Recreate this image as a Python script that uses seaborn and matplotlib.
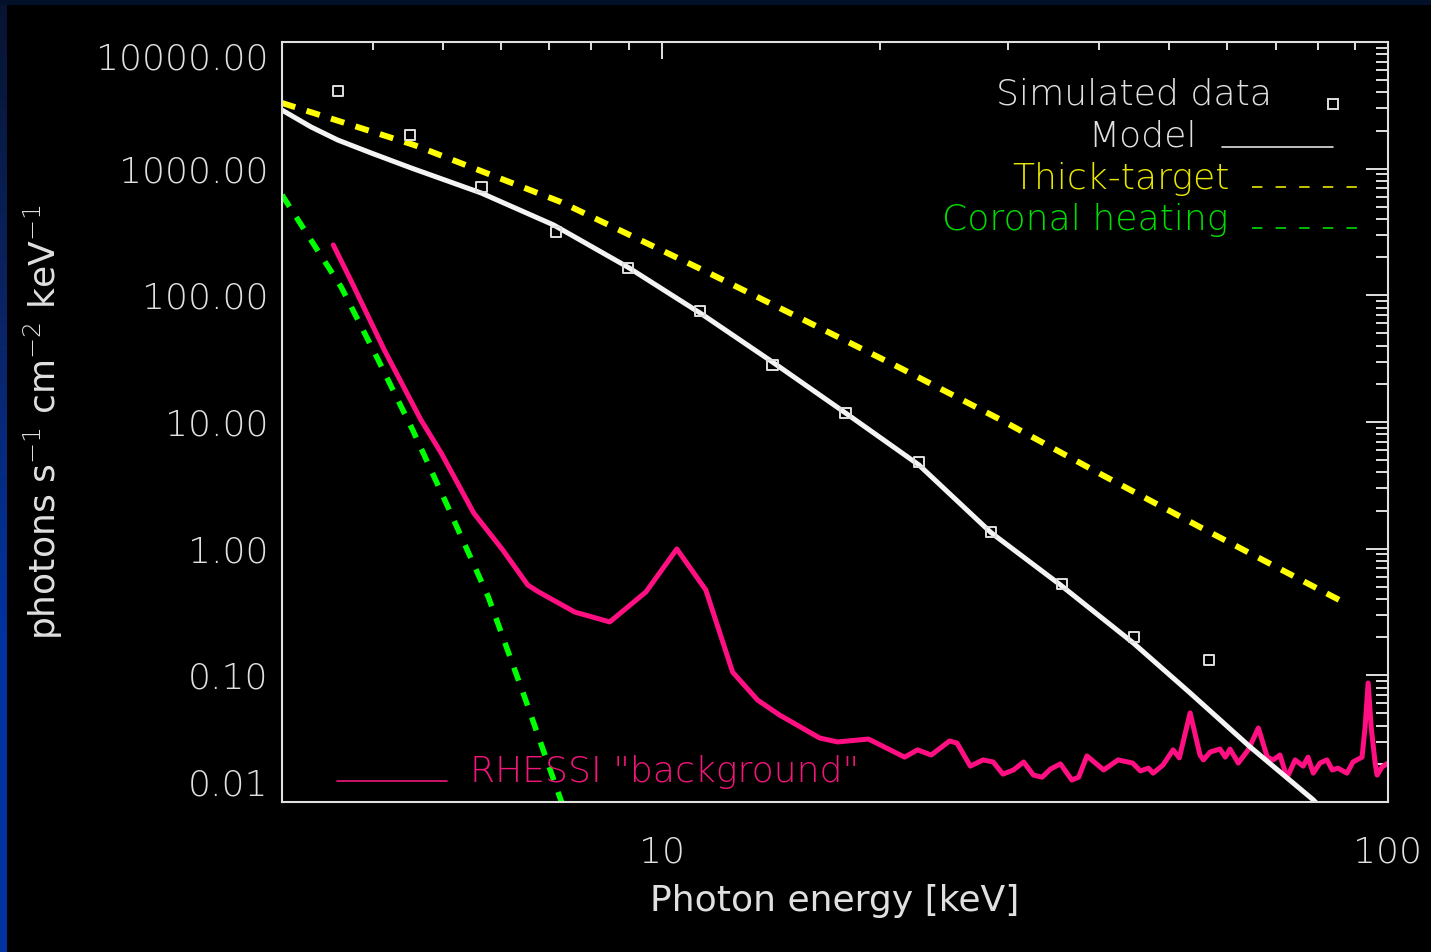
import numpy as np
import matplotlib
matplotlib.use("Agg")
import matplotlib.pyplot as plt
import seaborn as sns
from matplotlib.ticker import LogLocator, NullFormatter, FixedLocator, FixedFormatter
from matplotlib.colors import LinearSegmentedColormap
from matplotlib.patches import Rectangle

# ---- spectral data (photon energy in keV, flux in photons s^-1 cm^-2 keV^-1) ----
data_energy = [3.58, 4.50, 5.65, 7.15, 8.98, 11.3, 14.2, 17.9, 22.6, 28.4, 35.6, 44.7, 56.7]
data_flux = [4100, 1845, 716, 316, 164, 75.2, 28.2, 11.8, 4.83, 1.35, 0.526, 0.201, 0.132]

model_energy = [3.0, 3.29, 3.58, 3.98, 4.52, 5.64, 7.10, 8.98, 11.4, 14.2, 17.9, 22.6, 28.4,
                35.4, 44.6, 53.4, 64.6, 78.9, 80.5]
model_flux = [2900, 2133, 1683, 1330, 1012, 643, 359, 167, 70.0, 29.8, 11.8, 4.58, 1.34,
              0.517, 0.180, 0.0726, 0.0272, 0.0104, 0.0092]

thick_energy = [3.0, 4.56, 7.26, 11.4, 15.5, 21.3, 29.3, 40.2, 55.1, 87.3]
thick_flux = [3300, 1538, 546, 158, 66.2, 26.7, 10.4, 3.88, 1.48, 0.372]

coronal_energy = [3.0, 3.62, 4.07, 4.54, 5.04, 5.77, 6.48, 7.26, 7.45]
coronal_flux = [620, 116, 30.9, 8.65, 2.34, 0.416, 0.0663, 0.0104, 0.0075]

bkg_energy = [3.53, 3.73, 4.15, 4.66, 4.97, 5.51, 6.04, 6.54, 6.77, 7.59, 8.48, 9.51, 10.49,
              11.5, 12.52, 13.55, 14.53, 16.5, 17.46, 19.26, 21.6, 22.5, 23.5, 24.9, 25.5,
              26.6, 27.7, 28.6, 29.5, 30.5, 31.5, 32.5, 33.4, 34.3, 35.4, 36.7, 37.5, 38.5,
              40.6, 42.5, 44.5, 45.6, 46.8, 47.5, 49.0, 50.6, 51.6, 53.4, 55.1, 55.7, 56.9,
              58.7, 59.7, 60.6, 62.2, 64.2, 66.3, 68.2, 69.5, 71.0, 72.6, 74.5, 76.4, 77.6,
              78.9, 80.6, 82.4, 83.8, 85.3, 87.8, 89.5, 92.1, 93.0, 93.9, 94.8, 96.0, 96.6,
              98.1, 100.0]
bkg_flux = [250, 132, 37.0, 10.4, 5.69, 1.91, 0.977, 0.516, 0.455, 0.316, 0.264, 0.455, 0.994,
            0.472, 0.106, 0.0638, 0.0486, 0.032, 0.0298, 0.0314, 0.0226, 0.0258, 0.0235, 0.0303,
            0.0292, 0.0192, 0.0215, 0.0207, 0.0166, 0.0179, 0.0207, 0.0163, 0.0157, 0.0182,
            0.0200, 0.0149, 0.0157, 0.0231, 0.0179, 0.0215, 0.0203, 0.0176, 0.0185, 0.0169,
            0.0196, 0.0258, 0.0223, 0.0505, 0.0235, 0.0215, 0.0248, 0.0262, 0.0226, 0.0262,
            0.0203, 0.0258, 0.0384, 0.0226, 0.0215, 0.0235, 0.0155, 0.0215, 0.0192, 0.0226,
            0.0169, 0.0203, 0.0215, 0.0179, 0.0185, 0.0169, 0.0207, 0.0226, 0.0391, 0.0871,
            0.0391, 0.0203, 0.0163, 0.0189, 0.0203]

y_ticks = [0.01, 0.1, 1, 10, 100, 1000, 10000]
y_tick_labels = ["0.01", "0.10", "1.00", "10.00", "100.00", "1000.00", "10000.00"]
x_ticks = [10, 100]
x_tick_labels = ["10", "100"]

# ---- colours ----
FG = "#e0e0e0"
WHITE = "#f4f4f4"
YELLOW = "#ffff00"
YELLOW_TXT = "#e6e600"
GREEN = "#00ff00"
GREEN_TXT = "#00dd00"
PINK = "#ff0f82"
PINK_TXT = "#f0157a"

sns.set_style("dark", rc={
    "axes.facecolor": "black",
    "figure.facecolor": "black",
    "axes.edgecolor": FG,
    "axes.linewidth": 1.5,
    "text.color": FG,
    "axes.labelcolor": FG,
    "xtick.color": FG,
    "ytick.color": FG,
    "axes.grid": False,
})
plt.rcParams["font.family"] = ["DejaVu Sans"]
plt.rcParams["font.weight"] = "light"
plt.rcParams["lines.scale_dashes"] = False
plt.rcParams["mathtext.fontset"] = "dejavusans"

W, H = 1431, 952
fig = plt.figure(figsize=(W / 100, H / 100), dpi=100, facecolor="black")

# blue frame edges
cmap = LinearSegmentedColormap.from_list("edge", ["#071430", "#0a2466", "#0033a0", "#0033a0"])
edge = fig.add_axes([0, 0, 7 / W, 1])
edge.imshow(np.linspace(0, 1, 256).reshape(-1, 1), aspect="auto", cmap=cmap,
            extent=[0, 1, 0, 1], origin="upper")
edge.axis("off")
fig.patches.append(Rectangle((0, 1 - 5 / H), 1, 5 / H, transform=fig.transFigure,
                             facecolor="#02102a", edgecolor="none", zorder=0))

ax = fig.add_axes([282 / W, 150 / H, 1106 / W, 760 / H])
ax.set_facecolor("black")
ax.set_xscale("log")
ax.set_yscale("log")

TXT = 26

# coronal heating (thermal) component
sns.lineplot(x=coronal_energy, y=coronal_flux, ax=ax, color=GREEN, lw=4.0,
             estimator=None, sort=False)
ax.get_lines()[-1].set_dashes([10, 9])

# RHESSI background
sns.lineplot(x=bkg_energy, y=bkg_flux, ax=ax, color=PINK, lw=3.6,
             estimator=None, sort=False)

# thick-target component
sns.lineplot(x=thick_energy, y=thick_flux, ax=ax, color=YELLOW, lw=4.3,
             estimator=None, sort=False)
ax.get_lines()[-1].set_dashes([10, 8.5])

# total model
sns.lineplot(x=model_energy, y=model_flux, ax=ax, color=WHITE, lw=3.6,
             estimator=None, sort=False)

# simulated data points
sns.scatterplot(x=data_energy, y=data_flux, ax=ax, marker="s", s=56,
                facecolors="none", edgecolors=FG, linewidths=1.4, zorder=5)
coll = ax.collections[-1]
coll.set_facecolor("none")
coll.set_edgecolor(FG)

ax.set_xlim(3, 100)
ax.set_ylim(0.01, 10000)

# ticks
ax.xaxis.set_major_locator(FixedLocator(x_ticks))
ax.xaxis.set_major_formatter(FixedFormatter(x_tick_labels))
ax.xaxis.set_minor_locator(LogLocator(base=10, subs=np.arange(2, 10)))
ax.xaxis.set_minor_formatter(NullFormatter())
ax.yaxis.set_major_locator(FixedLocator(y_ticks))
ax.yaxis.set_major_formatter(FixedFormatter(y_tick_labels))
ax.yaxis.set_minor_locator(LogLocator(base=10, subs=np.arange(2, 10), numticks=20))
ax.yaxis.set_minor_formatter(NullFormatter())

ax.tick_params(which="both", direction="in", top=True, right=True, width=1.4, colors=FG)
ax.tick_params(axis="x", which="major", length=12, pad=24, labelsize=TXT)
ax.tick_params(axis="x", which="minor", length=6)
ax.tick_params(axis="y", which="major", length=16, pad=10, labelsize=TXT)
ax.tick_params(axis="y", which="minor", length=9)
for spine in ax.spines.values():
    spine.set_visible(True)
    spine.set_color(FG)
    spine.set_linewidth(1.5)

ylabels = ax.get_yticklabels()
ylabels[0].set_va("bottom")
ylabels[-1].set_va("top")

ax.set_xlabel("Photon energy [keV]", fontsize=TXT)
ax.xaxis.set_label_coords(0.5, -0.108)
ax.xaxis.label.set_va("top")
ax.set_ylabel("photons s$^{-1}$ cm$^{-2}$ keV$^{-1}$", fontsize=TXT)
ax.yaxis.set_label_coords(-0.196, 0.5)

# legend entries
tr = ax.transAxes
ax.text(0.895, 0.931, "Simulated data", transform=tr, ha="right", va="center",
        fontsize=TXT, color=FG)
ax.plot([0.950], [0.918], transform=tr, marker="s", ms=7.5, mfc="none", mec=FG,
        mew=1.4, ls="none")
ax.text(0.827, 0.876, "Model", transform=tr, ha="right", va="center",
        fontsize=TXT, color=FG)
ax.plot([0.850, 0.950], [0.862, 0.862], transform=tr, color=FG, lw=1.2)
ax.text(0.857, 0.820, "Thick-target", transform=tr, ha="right", va="center",
        fontsize=TXT, color=YELLOW_TXT)
ax.plot([0.877, 0.981], [0.809, 0.809], transform=tr, color=YELLOW_TXT, lw=1.2,
        dashes=[7.5, 9.5])
ax.text(0.856, 0.766, "Coronal heating", transform=tr, ha="right", va="center",
        fontsize=TXT, color=GREEN_TXT)
ax.plot([0.877, 0.981], [0.755, 0.755], transform=tr, color=GREEN_TXT, lw=1.2,
        dashes=[7.5, 9.5])
ax.text(0.170, 0.040, 'RHESSI "background"', transform=tr, ha="left", va="center",
        fontsize=TXT, color=PINK_TXT)
ax.plot([0.050, 0.149], [0.028, 0.028], transform=tr, color=PINK_TXT, lw=1.2)

fig.savefig("out.png", dpi=100, facecolor="black")
